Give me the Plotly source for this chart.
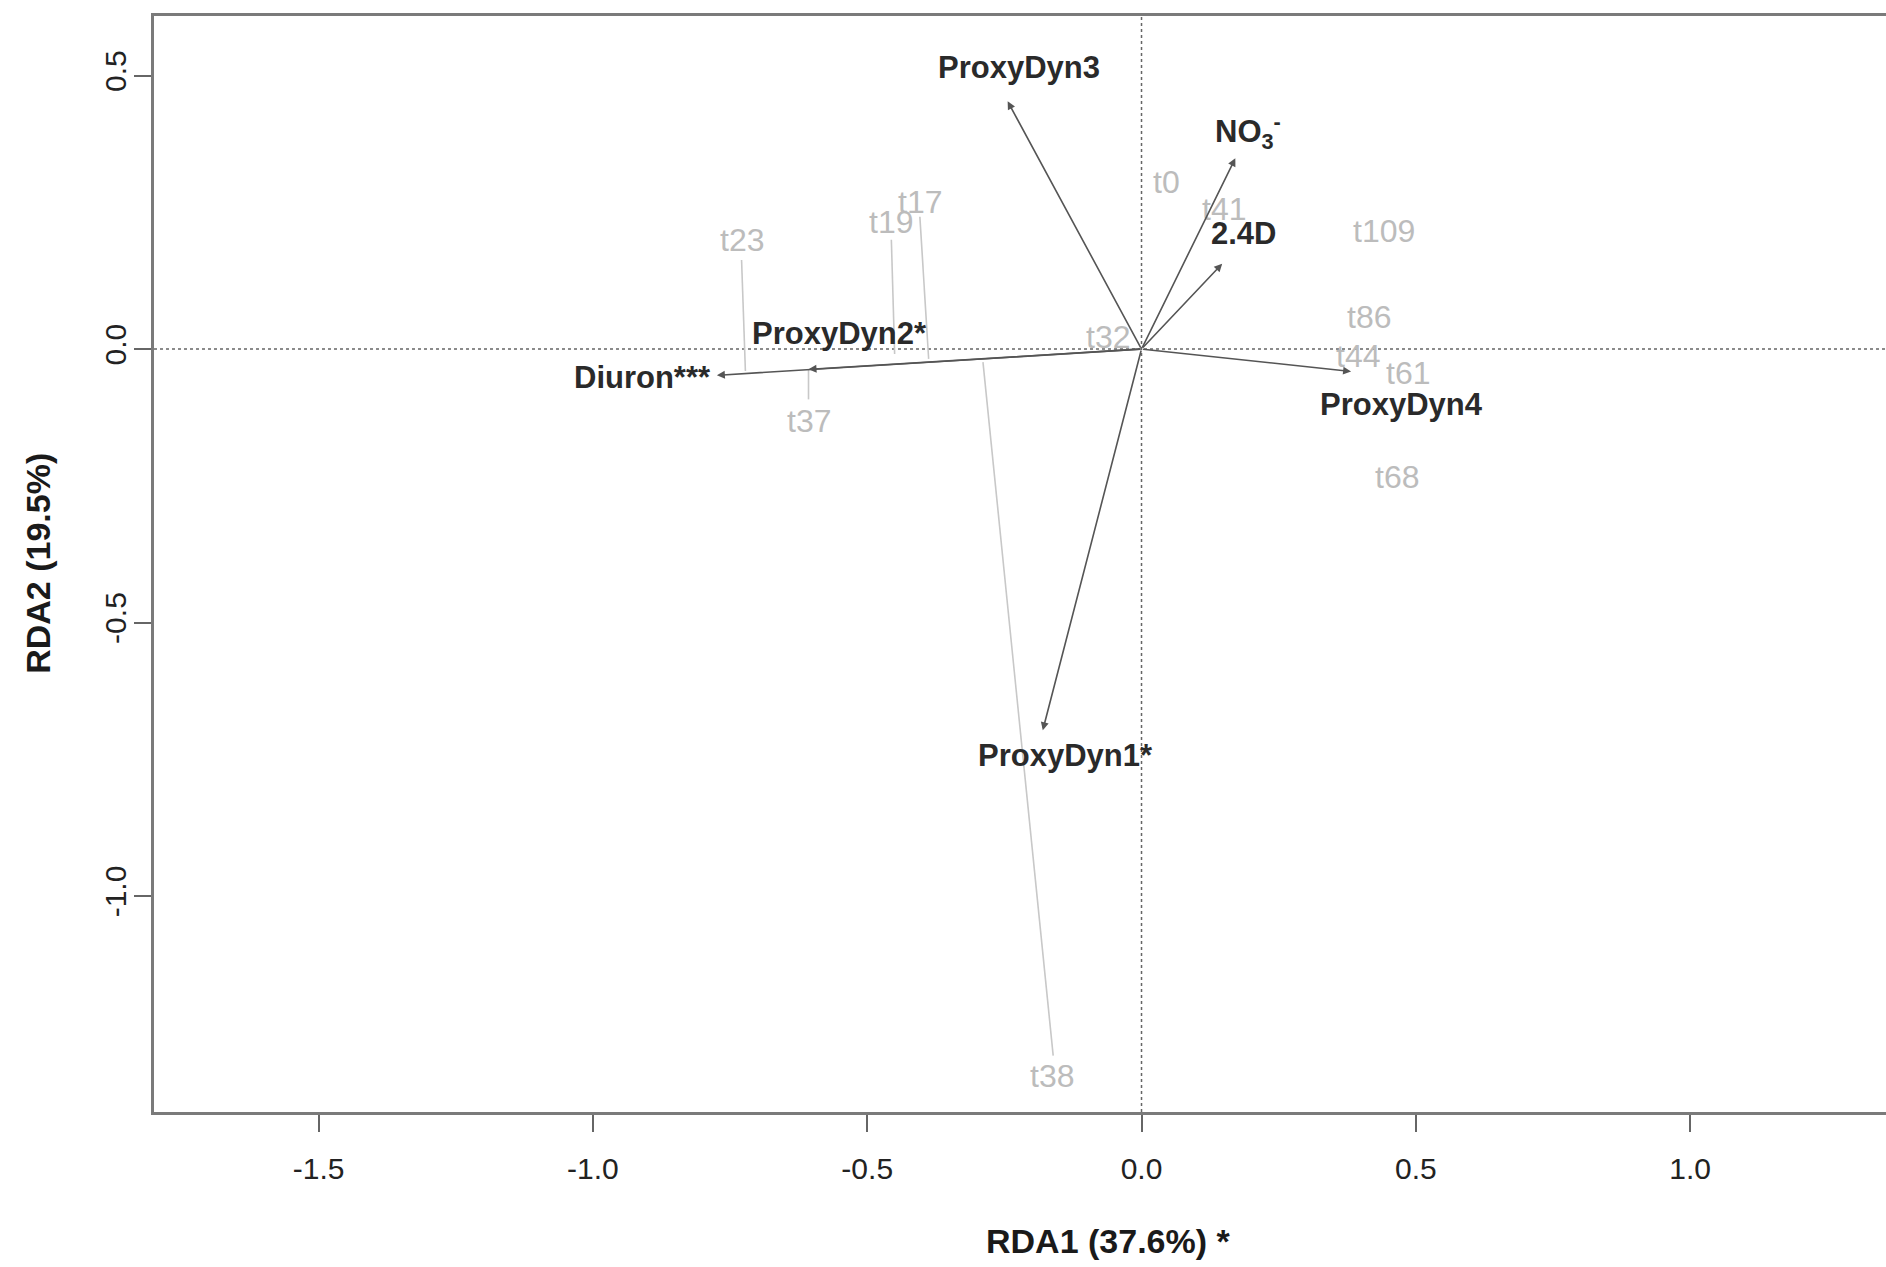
import plotly.graph_objects as go

# ---- data ----
x_range = [-1.800, 1.357]
y_range = [-1.395, 0.609]

x_ticks = [-1.5, -1.0, -0.5, 0.0, 0.5, 1.0]
x_ticktext = ["-1.5", "-1.0", "-0.5", "0.0", "0.5", "1.0"]
y_ticks = [0.5, 0.0, -0.5, -1.0]
y_ticktext = ["0.5", "0.0", "-0.5", "-1.0"]

arrow_names = ["ProxyDyn1*", "ProxyDyn2*", "ProxyDyn3", "ProxyDyn4",
               "Diuron***", "NO<sub>3</sub><sup>-</sup>", "2.4D"]
arrow_x = [-0.180, -0.607, -0.244, 0.382, -0.774, 0.171, 0.147]
arrow_y = [-0.697, -0.037, 0.453, -0.041, -0.048, 0.349, 0.156]
arrow_label_x = [-0.139, -0.550, -0.224, 0.473, -0.909, 0.194, 0.186]
arrow_label_y = [-0.743, 0.028, 0.514, -0.102, -0.052, 0.397, 0.211]

site_names = ["t0", "t17", "t19", "t23", "t32", "t37", "t38",
              "t41", "t44", "t61", "t68", "t86", "t109"]
site_x = [0.045, -0.403, -0.456, -0.729, -0.061, -0.607, -0.164,
          0.150, 0.394, 0.486, 0.466, 0.414, 0.442]
site_y = [0.306, 0.269, 0.233, 0.199, 0.022, -0.132, -1.330,
          0.256, -0.012, -0.044, -0.233, 0.058, 0.215]

# visible links between site scores (wa -> lc)
link_sites = ["t17", "t19", "t23", "t37", "t38"]
link_x0 = [-0.404, -0.456, -0.729, -0.607, -0.161]
link_y0 = [0.242, 0.200, 0.163, -0.092, -1.292]
link_x1 = [-0.388, -0.450, -0.722, -0.607, -0.289]
link_y1 = [-0.018, -0.009, -0.040, -0.037, -0.024]

x_title = "RDA1 (37.6%) *"
y_title = "RDA2 (19.5%)"

FONT = "Liberation Sans, Arial, Helvetica, sans-serif"

fig = go.Figure()

# site links
lx, ly = [], []
for a, b, c, d in zip(link_x0, link_y0, link_x1, link_y1):
    lx += [a, c, None]
    ly += [b, d, None]
fig.add_trace(go.Scatter(x=lx, y=ly, mode="lines",
                         line=dict(color="#c8c8c8", width=1.6),
                         hoverinfo="skip", showlegend=False))

annotations = []
# site labels
for n, x, y in zip(site_names, site_x, site_y):
    annotations.append(dict(x=x, y=y, xref="x", yref="y", text=n,
                            showarrow=False,
                            font=dict(family=FONT, size=32, color="#bcbcbc"),
                            xanchor="center", yanchor="middle"))
# arrows
for x, y in zip(arrow_x, arrow_y):
    annotations.append(dict(x=x, y=y, ax=0, ay=0, xref="x", yref="y",
                            axref="x", ayref="y", text="", showarrow=True,
                            arrowhead=2, arrowsize=1.0, arrowwidth=1.6,
                            arrowcolor="#555555"))
# arrow labels
for n, x, y in zip(arrow_names, arrow_label_x, arrow_label_y):
    annotations.append(dict(x=x, y=y, xref="x", yref="y", text="<b>" + n + "</b>",
                            showarrow=False,
                            font=dict(family=FONT, size=31, color="#2a2a2a"),
                            xanchor="center", yanchor="middle"))
# axis titles
annotations.append(dict(x=-0.061, y=-0.118, xref="x", yref="paper",
                        text="<b>" + x_title + "</b>", showarrow=False,
                        font=dict(family=FONT, size=34, color="#1a1a1a"),
                        xanchor="center", yanchor="middle"))
annotations.append(dict(x=-0.067, y=0.501, xref="paper", yref="paper",
                        text="<b>" + y_title + "</b>", showarrow=False,
                        textangle=-90,
                        font=dict(family=FONT, size=34, color="#1a1a1a"),
                        xanchor="center", yanchor="middle"))

shapes = [
    dict(type="line", xref="x", yref="paper", x0=0, x1=0, y0=0, y1=1,
         line=dict(color="#666666", width=1.5, dash="dot"), layer="below"),
    dict(type="line", xref="paper", yref="y", x0=0, x1=1, y0=0, y1=0,
         line=dict(color="#666666", width=1.5, dash="dot"), layer="below"),
]

fig.update_layout(
    width=1886, height=1267,
    margin=dict(l=154, r=0, t=16, b=155),
    paper_bgcolor="white", plot_bgcolor="white",
    showlegend=False,
    annotations=annotations,
    shapes=shapes,
    xaxis=dict(range=x_range, tickvals=x_ticks, ticktext=x_ticktext,
               showgrid=False, zeroline=False, showline=True, mirror=True,
               linecolor="#7a7a7a", linewidth=2.5,
               ticks="outside", ticklen=17, tickwidth=1.5, tickcolor="#666666",
               ticklabelstandoff=11,
               tickfont=dict(family=FONT, size=30, color="#222222")),
    yaxis=dict(range=y_range, tickvals=y_ticks, ticktext=y_ticktext,
               showgrid=False, zeroline=False, showline=True, mirror=False,
               linecolor="#7a7a7a", linewidth=2.5,
               ticks="outside", ticklen=17, tickwidth=1.5, tickcolor="#666666",
               tickangle=-90, ticklabelstandoff=-4,
               tickfont=dict(family=FONT, size=30, color="#222222")),
)

fig.write_html("out.html")
